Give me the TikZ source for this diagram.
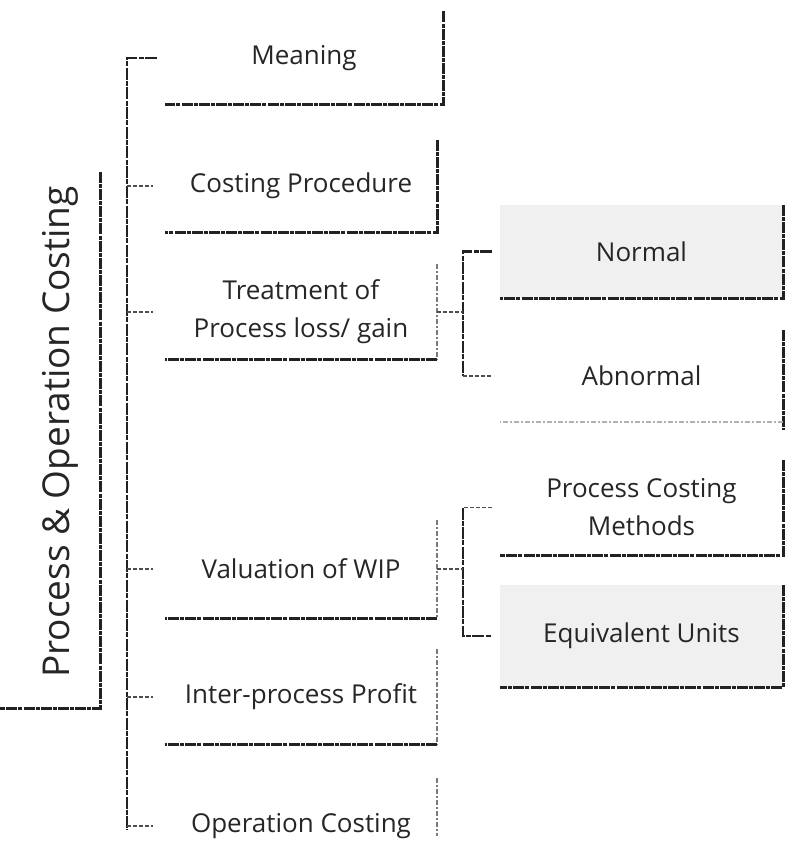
\documentclass[tikz,border=0pt]{standalone}
\usepackage{fontspec}
\setmainfont{Open Sans}
\usetikzlibrary{calc}
\definecolor{ink}{HTML}{222222}
\definecolor{txt}{HTML}{262626}

\begin{document}
\begin{tikzpicture}[x=1pt,y=-1pt,
  edge/.style={draw=ink, line width=2.9pt, dash pattern=on 11pt off 1.2pt on 4pt off 1pt},
  softedge/.style={draw=ink!60, line width=2.2pt, dash pattern=on 5pt off 2pt on 2pt off 2pt},
  rail/.style={draw=ink, line width=2.4pt, dash pattern=on 12pt off 1.2pt on 5pt off 1.5pt},
  tick/.style={draw=ink!80, line width=1.7pt, dash pattern=on 4pt off 2pt},
  box/.style={inner sep=0pt, align=center, text=txt, font=\fontsize{26}{38}\selectfont},
  speck/.style={fill=black!6},
]
\useasboundingbox (0,0) rectangle (787,844);

% root column
\node[inner sep=0pt, minimum width=100pt, minimum height=536pt] (rootbox) at (50,440) {};
\node[inner sep=0pt, rotate=90, text=txt, font=\fontsize{37}{44}\selectfont] (root) at (60,432) {Process \& Operation Costing};
\draw[edge] (rootbox.north east) -- (rootbox.south east) -- (rootbox.south west);

% first level
\node[box, minimum width=278pt, minimum height=93pt] (mean)  at (304,58)  {Meaning};
\node[box, minimum width=272pt, minimum height=92pt] (cost)  at (301,186) {Costing Procedure};
\node[box, minimum width=272pt, minimum height=95pt] (treat) at (301,312) {Treatment of\\Process loss/ gain};
\node[box, minimum width=272pt, minimum height=98pt] (val)   at (301,569) {Valuation of WIP};
\node[box, minimum width=272pt, minimum height=95pt] (inter) at (301,697) {Inter-process Profit};
\node[box, minimum width=272pt, minimum height=95pt] (oper)  at (301,826) {Operation Costing};

\draw[edge] (mean.north east)  -- (mean.south east)  -- (mean.south west);
\draw[edge] (cost.north east)  -- (cost.south east)  -- (cost.south west);
\draw[softedge] (treat.north east) -- (treat.south east);
\draw[edge] (treat.south east) -- (treat.south west);
\draw[softedge] (val.north east) -- (val.south east);
\draw[edge] (val.south east) -- (val.south west);
\draw[softedge] (inter.north east) -- (inter.south east);
\draw[edge] (inter.south east) -- (inter.south west);
\draw[softedge] (oper.north east) -- ([yshift=-10pt]oper.east);

% first-level bracket
\coordinate (b1) at (127,0);
\draw[rail] ([xshift=-8pt]mean.west) -- (mean.west -| b1) -- ([yshift=-4pt]oper.west -| b1);
\foreach \n in {cost,treat,val,inter,oper}
  \draw[tick] (\n.west -| b1) -- ([xshift=-12pt]\n.west);

% second level
\node[box, speck, minimum width=283pt, minimum height=93pt]  (normal) at (641.5,251.5) {Normal};
\node[box, minimum width=283pt, minimum height=92pt]         (abn)    at (641.5,376)   {Abnormal};
\node[box, minimum width=283pt, minimum height=95pt]         (pcm)    at (641.5,507.5) {Process Costing\\Methods};
\node[box, speck, minimum width=283pt, minimum height=102pt] (equ)    at (641.5,636)   {Equivalent Units};

\draw[edge] (normal.north east) -- (normal.south east) -- (normal.south west);
\draw[edge] (abn.north east) -- ([yshift=-8pt]abn.south east);
\draw[softedge, draw=ink!35] (abn.south east) -- (abn.south west);
\draw[edge] (pcm.north east) -- (pcm.south east) -- (pcm.south west);
\draw[edge] (equ.north east) -- (equ.south east) -- (equ.south west);

% second-level brackets
\coordinate (b2) at (463,0);
\draw[rail] ([xshift=-8pt]normal.west) -- (normal.west -| b2) -- (abn.west -| b2);
\draw[tick] (abn.west -| b2) -- ([xshift=-8pt]abn.west);
\draw[tick] (treat.east) -- (treat.east -| b2);

\draw[tick] ([xshift=-8pt]pcm.west) -- (pcm.west -| b2);
\draw[rail] (pcm.west -| b2) -- (equ.west -| b2) -- ([xshift=-8pt]equ.west);
\draw[tick] (val.east) -- (val.east -| b2);
\end{tikzpicture}
\end{document}
